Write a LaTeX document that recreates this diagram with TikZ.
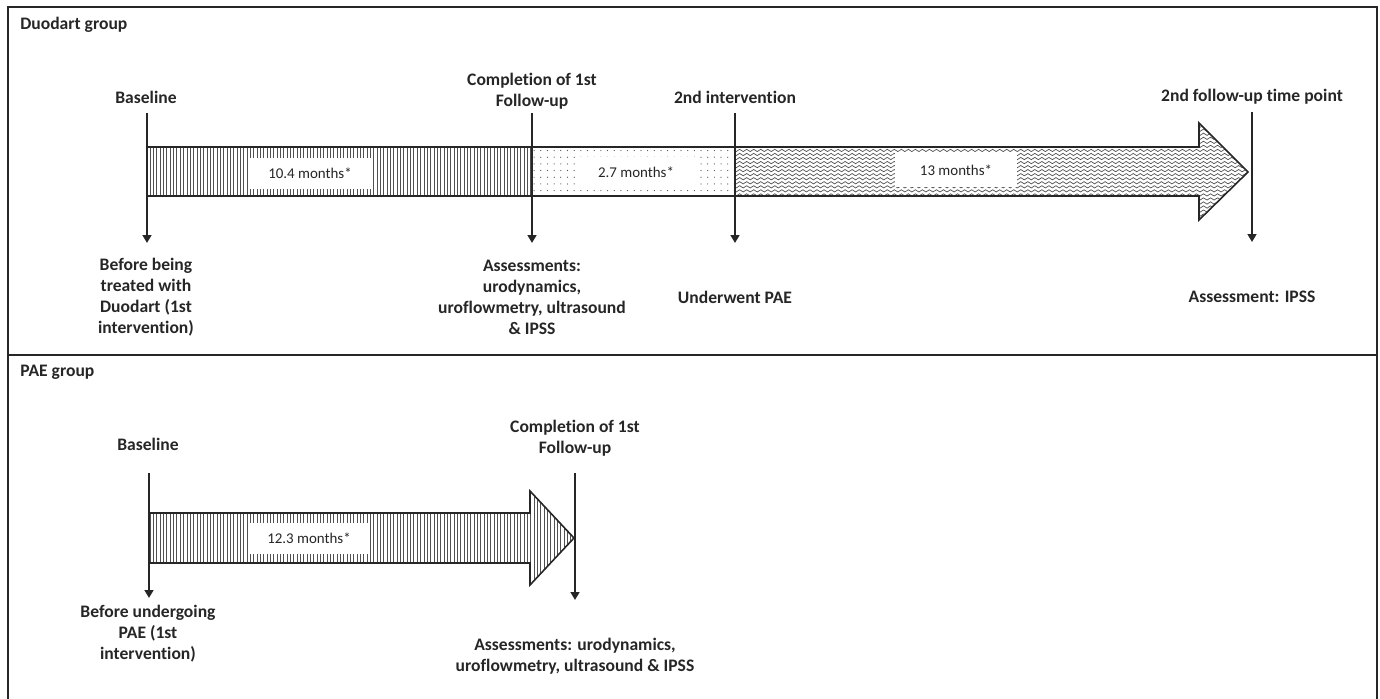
\documentclass[tikz,border=0pt]{standalone}
\usepackage{fontspec}
\setmainfont[Ligatures=NoCommon]{Carlito}
\usetikzlibrary{patterns,patterns.meta,arrows.meta}
\definecolor{ink}{RGB}{38,38,38}
\definecolor{hatch}{RGB}{80,80,80}
\pgfdeclarepatternformonly{waves}{\pgfpoint{-0.2pt}{-0.2pt}}{\pgfpoint{4.2pt}{2.5pt}}{\pgfpoint{4pt}{2.3pt}}{%
  \pgfsetlinewidth{0.4pt}%
  \pgfpathmoveto{\pgfpoint{0pt}{1.15pt}}%
  \pgfpathcurveto{\pgfpoint{0.7pt}{2.0pt}}{\pgfpoint{1.3pt}{2.0pt}}{\pgfpoint{2pt}{1.15pt}}%
  \pgfpathcurveto{\pgfpoint{2.7pt}{0.3pt}}{\pgfpoint{3.3pt}{0.3pt}}{\pgfpoint{4pt}{1.15pt}}%
  \pgfusepath{stroke}}
\begin{document}
\begin{tikzpicture}[x=0.02cm,y=-0.02cm,
  lab/.style={font=\bfseries\fontsize{10}{12}\selectfont, align=center, text=ink, inner sep=1pt},
  grp/.style={font=\bfseries\fontsize{10}{12}\selectfont, anchor=west, text=ink, inner sep=0pt},
  dur/.style={fill=white, font=\fontsize{8.5}{10}\selectfont, minimum width=2.44cm, minimum height=0.62cm, inner sep=0pt, text=ink},
  tick/.style={draw=ink, line width=1.1pt, -{Triangle[width=5pt,length=4.5pt]}},
  outline/.style={draw=ink, line width=0.9pt, line join=miter},
  vfill/.style={pattern={Lines[angle=90,distance=1.9pt,line width=0.5pt]}, pattern color=hatch},
  dfill/.style={pattern={Dots[distance=3.8pt,radius=0.35pt]}, pattern color=hatch},
  wfill/.style={pattern=waves, pattern color=hatch},
  frame/.style={draw=ink, line width=1.1pt}]
\useasboundingbox (0,0) rectangle (1380,698);

% frame
\draw[frame] (8,702) -- (8,7) -- (1377,7) -- (1377,702);
\draw[frame] (8,355) -- (1377,355);
\node[grp] (g1) at (20,25) {Duodart group};
\node[grp] (g2) at (20,372) {PAE group};

% ---------- Duodart timeline ----------
\fill[vfill] (147,147) rectangle (532,196);
\fill[dfill] (532,147) rectangle (735,196);
\fill[wfill] (735,147) -- (1199,147) -- (1199,123) -- (1248,172) -- (1199,220) -- (1199,196) -- (735,196) -- cycle;
\draw[outline] (147,147) -- (1199,147) -- (1199,123) -- (1248,172) -- (1199,220) -- (1199,196) -- (147,196) -- cycle;

\node[dur] (d1) at (310,173) {10.4 months*};
\node[dur] (d2) at (636,172) {2.7 months*};
\node[dur, minimum height=0.68cm] (d3) at (956,170) {13 months*};

\coordinate (a1t) at (147,113); \coordinate (a1b) at (147,243);
\coordinate (a2t) at (532,113); \coordinate (a2b) at (532,243);
\coordinate (a3t) at (735,113); \coordinate (a3b) at (735,243);
\coordinate (a4t) at (1252,112); \coordinate (a4b) at (1252,242);
\draw[tick] (a1t) -- (a1b);
\draw[tick] (a2t) -- (a2b);
\draw[tick] (a3t) -- (a3b);
\draw[tick] (a4t) -- (a4b);

\node[lab] (t1) at (146,97) {Baseline};
\node[lab] (t2) at (532,91) {Completion of 1st\\Follow-up};
\node[lab] (t3) at (735,97) {2nd intervention};
\node[lab] (t4) at (1252,97) {2nd follow-up time point};

\node[lab] (b1) at (146,297) {Before being\\treated with\\Duodart (1st\\intervention)};
\node[lab] (b2) at (532,297) {Assessments:\\urodynamics,\\uroflowmetry, ultrasound\\\& IPSS};
\node[lab] (b3) at (735,297) {Underwent PAE};
\node[lab] (b4) at (1252,297) {Assessment: IPSS};

% ---------- PAE timeline ----------
\fill[vfill] (149,513) -- (530,513) -- (530,491) -- (574,538) -- (530,585) -- (530,563) -- (149,563) -- cycle;
\draw[outline] (149,513) -- (530,513) -- (530,491) -- (574,538) -- (530,585) -- (530,563) -- (149,563) -- cycle;
\node[dur] (d4) at (309,538) {12.3 months*};

\coordinate (p1t) at (149,473); \coordinate (p1b) at (149,598);
\coordinate (p2t) at (575,473); \coordinate (p2b) at (575,600);
\draw[tick] (p1t) -- (p1b);
\draw[tick] (p2t) -- (p2b);

\node[lab] (pt1) at (148,444) {Baseline};
\node[lab] (pt2) at (575,438) {Completion of 1st\\Follow-up};
\node[lab] (pb1) at (148,634) {Before undergoing\\PAE (1st\\intervention)};
\node[lab] (pb2) at (575,656) {Assessments: urodynamics,\\uroflowmetry, ultrasound \& IPSS};
\end{tikzpicture}
\end{document}
